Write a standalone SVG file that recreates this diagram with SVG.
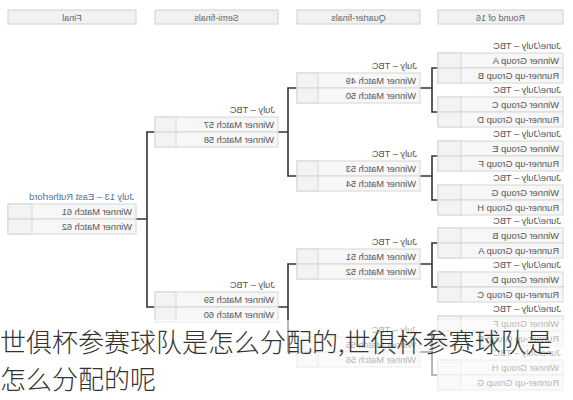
<svg xmlns="http://www.w3.org/2000/svg" width="573" height="400" viewBox="0 0 573 400">
<style>
.bg{fill:#ffffff}
.hd{fill:#f1f1f1;stroke:#d0d0d0;stroke-width:1}
.ht{font-family:"Liberation Sans",Arial,sans-serif;font-size:9px;fill:#666;text-anchor:middle}
.row{fill:#f7f7f7;stroke:#d6d6d6;stroke-width:1}
.sc{fill:#f3f3f3;stroke:#d6d6d6;stroke-width:1}
.t{font-family:"Liberation Sans",Arial,sans-serif;font-size:9.3px;fill:#555}
.v{fill:#52709f}
.conn{fill:none;stroke:#333;stroke-width:1.6}
.cap{font-family:"Noto Sans CJK SC","Noto Sans",sans-serif;font-size:26px;font-weight:300;fill:#333}
</style>
<rect class="bg" x="0" y="0" width="573" height="400"/>
<g id="headers">
<rect class="hd" x="8" y="10" width="128" height="14"/>
<text class="ht" transform="translate(72,20.5) scale(-1,1)">Final</text>
<rect class="hd" x="155" y="10" width="123" height="14"/>
<text class="ht" transform="translate(216.5,20.5) scale(-1,1)">Semi-finals</text>
<rect class="hd" x="297" y="10" width="123" height="14"/>
<text class="ht" transform="translate(358.5,20.5) scale(-1,1)">Quarter-finals</text>
<rect class="hd" x="438" y="10" width="125" height="14"/>
<text class="ht" transform="translate(500.5,20.5) scale(-1,1)">Round of 16</text>
</g>
<g id="connectors">
<path class="conn" d="M438,68H432V112H438M420,88H432"/>
<path class="conn" d="M438,156H432V200H438M420,176H432"/>
<path class="conn" d="M438,243H432V287H438M420,264H432"/>
<path class="conn" d="M438,331H432V375H438M420,352H432"/>
<path class="conn" d="M297,88H288V176H297M278,132H288"/>
<path class="conn" d="M297,264H288V352H297M278,307H288"/>
<path class="conn" d="M155,132H147V307H155M136,219H147"/>
</g>
<!-- Round of 16 -->
<g id="r16-1"><text class="t" transform="translate(561,49) scale(-1,1)">June/July – TBC</text><rect class="row" x="438" y="53" width="125" height="15"/><rect class="row" x="438" y="68" width="125" height="15"/><rect class="sc" x="438" y="53" width="23" height="15"/><rect class="sc" x="438" y="68" width="23" height="15"/><text class="t" transform="translate(559,64) scale(-1,1)">Winner Group A</text><text class="t" transform="translate(559,79) scale(-1,1)">Runner-up Group B</text></g>
<g id="r16-2"><text class="t" transform="translate(561,93) scale(-1,1)">June/July – TBC</text><rect class="row" x="438" y="97" width="125" height="15"/><rect class="row" x="438" y="112" width="125" height="15"/><rect class="sc" x="438" y="97" width="23" height="15"/><rect class="sc" x="438" y="112" width="23" height="15"/><text class="t" transform="translate(559,108) scale(-1,1)">Winner Group C</text><text class="t" transform="translate(559,123) scale(-1,1)">Runner-up Group D</text></g>
<g id="r16-3"><text class="t" transform="translate(561,137) scale(-1,1)">June/July – TBC</text><rect class="row" x="438" y="141" width="125" height="15"/><rect class="row" x="438" y="156" width="125" height="15"/><rect class="sc" x="438" y="141" width="23" height="15"/><rect class="sc" x="438" y="156" width="23" height="15"/><text class="t" transform="translate(559,152) scale(-1,1)">Winner Group E</text><text class="t" transform="translate(559,167) scale(-1,1)">Runner-up Group F</text></g>
<g id="r16-4"><text class="t" transform="translate(561,181) scale(-1,1)">June/July – TBC</text><rect class="row" x="438" y="185" width="125" height="15"/><rect class="row" x="438" y="200" width="125" height="15"/><rect class="sc" x="438" y="185" width="23" height="15"/><rect class="sc" x="438" y="200" width="23" height="15"/><text class="t" transform="translate(559,196) scale(-1,1)">Winner Group G</text><text class="t" transform="translate(559,211) scale(-1,1)">Runner-up Group H</text></g>
<g id="r16-5"><text class="t" transform="translate(561,224) scale(-1,1)">June/July – TBC</text><rect class="row" x="438" y="228" width="125" height="15"/><rect class="row" x="438" y="243" width="125" height="15"/><rect class="sc" x="438" y="228" width="23" height="15"/><rect class="sc" x="438" y="243" width="23" height="15"/><text class="t" transform="translate(559,239) scale(-1,1)">Winner Group B</text><text class="t" transform="translate(559,254) scale(-1,1)">Runner-up Group A</text></g>
<g id="r16-6"><text class="t" transform="translate(561,268) scale(-1,1)">June/July – TBC</text><rect class="row" x="438" y="272" width="125" height="15"/><rect class="row" x="438" y="287" width="125" height="15"/><rect class="sc" x="438" y="272" width="23" height="15"/><rect class="sc" x="438" y="287" width="23" height="15"/><text class="t" transform="translate(559,283) scale(-1,1)">Winner Group D</text><text class="t" transform="translate(559,298) scale(-1,1)">Runner-up Group C</text></g>
<g id="r16-7"><text class="t" transform="translate(561,312) scale(-1,1)">June/July – TBC</text><rect class="row" x="438" y="316" width="125" height="15"/><rect class="row" x="438" y="331" width="125" height="15"/><rect class="sc" x="438" y="316" width="23" height="15"/><rect class="sc" x="438" y="331" width="23" height="15"/><text class="t" transform="translate(559,327) scale(-1,1)">Winner Group F</text><text class="t" transform="translate(559,342) scale(-1,1)">Runner-up Group E</text></g>
<g id="r16-8"><text class="t" transform="translate(561,356) scale(-1,1)">June/July – TBC</text><rect class="row" x="438" y="360" width="125" height="15"/><rect class="row" x="438" y="375" width="125" height="15"/><rect class="sc" x="438" y="360" width="23" height="15"/><rect class="sc" x="438" y="375" width="23" height="15"/><text class="t" transform="translate(559,371) scale(-1,1)">Winner Group H</text><text class="t" transform="translate(559,386) scale(-1,1)">Runner-up Group G</text></g>
<!-- Quarter-finals -->
<g id="qf-1"><text class="t" transform="translate(417,69) scale(-1,1)">July – TBC</text><rect class="row" x="297" y="73" width="123" height="15"/><rect class="row" x="297" y="88" width="123" height="15"/><rect class="sc" x="297" y="73" width="21" height="15"/><rect class="sc" x="297" y="88" width="21" height="15"/><text class="t" transform="translate(416,84) scale(-1,1)">Winner Match 49</text><text class="t" transform="translate(416,99) scale(-1,1)">Winner Match 50</text></g>
<g id="qf-2"><text class="t" transform="translate(417,157) scale(-1,1)">July – TBC</text><rect class="row" x="297" y="161" width="123" height="15"/><rect class="row" x="297" y="176" width="123" height="15"/><rect class="sc" x="297" y="161" width="21" height="15"/><rect class="sc" x="297" y="176" width="21" height="15"/><text class="t" transform="translate(416,172) scale(-1,1)">Winner Match 53</text><text class="t" transform="translate(416,187) scale(-1,1)">Winner Match 54</text></g>
<g id="qf-3"><text class="t" transform="translate(417,245) scale(-1,1)">July – TBC</text><rect class="row" x="297" y="249" width="123" height="15"/><rect class="row" x="297" y="264" width="123" height="15"/><rect class="sc" x="297" y="249" width="21" height="15"/><rect class="sc" x="297" y="264" width="21" height="15"/><text class="t" transform="translate(416,260) scale(-1,1)">Winner Match 51</text><text class="t" transform="translate(416,275) scale(-1,1)">Winner Match 52</text></g>
<g id="qf-4"><text class="t" transform="translate(417,333) scale(-1,1)">July – TBC</text><rect class="row" x="297" y="337" width="123" height="15"/><rect class="row" x="297" y="352" width="123" height="15"/><rect class="sc" x="297" y="337" width="21" height="15"/><rect class="sc" x="297" y="352" width="21" height="15"/><text class="t" transform="translate(416,348) scale(-1,1)">Winner Match 55</text><text class="t" transform="translate(416,363) scale(-1,1)">Winner Match 56</text></g>
<!-- Semi-finals -->
<g id="sf-1"><text class="t" transform="translate(275,113) scale(-1,1)">July – TBC</text><rect class="row" x="155" y="117" width="123" height="15"/><rect class="row" x="155" y="132" width="123" height="15"/><rect class="sc" x="155" y="117" width="21" height="15"/><rect class="sc" x="155" y="132" width="21" height="15"/><text class="t" transform="translate(274,128) scale(-1,1)">Winner Match 57</text><text class="t" transform="translate(274,143) scale(-1,1)">Winner Match 58</text></g>
<g id="sf-2"><text class="t" transform="translate(275,288) scale(-1,1)">July – TBC</text><rect class="row" x="155" y="292" width="123" height="15"/><rect class="row" x="155" y="307" width="123" height="15"/><rect class="sc" x="155" y="292" width="21" height="15"/><rect class="sc" x="155" y="307" width="21" height="15"/><text class="t" transform="translate(274,303) scale(-1,1)">Winner Match 59</text><text class="t" transform="translate(274,318) scale(-1,1)">Winner Match 60</text></g>
<!-- Final -->
<g id="final"><text class="t v" transform="translate(134,200) scale(-1,1)">July 13 – East Rutherford</text><rect class="row" x="8" y="204" width="128" height="15"/><rect class="row" x="8" y="219" width="128" height="15"/><rect class="sc" x="8" y="204" width="24" height="15"/><rect class="sc" x="8" y="219" width="24" height="15"/><text class="t" transform="translate(132,215) scale(-1,1)">Winner Match 61</text><text class="t" transform="translate(132,230) scale(-1,1)">Winner Match 62</text></g>
<g id="caption">
<rect x="0" y="320" width="573" height="80" fill="#ffffff" fill-opacity="0.55"/>
<text class="cap" x="0" y="352">世俱杯参赛球队是怎么分配的,世俱杯参赛球队是</text>
<text class="cap" x="0" y="389">怎么分配的呢</text>
</g>
</svg>
